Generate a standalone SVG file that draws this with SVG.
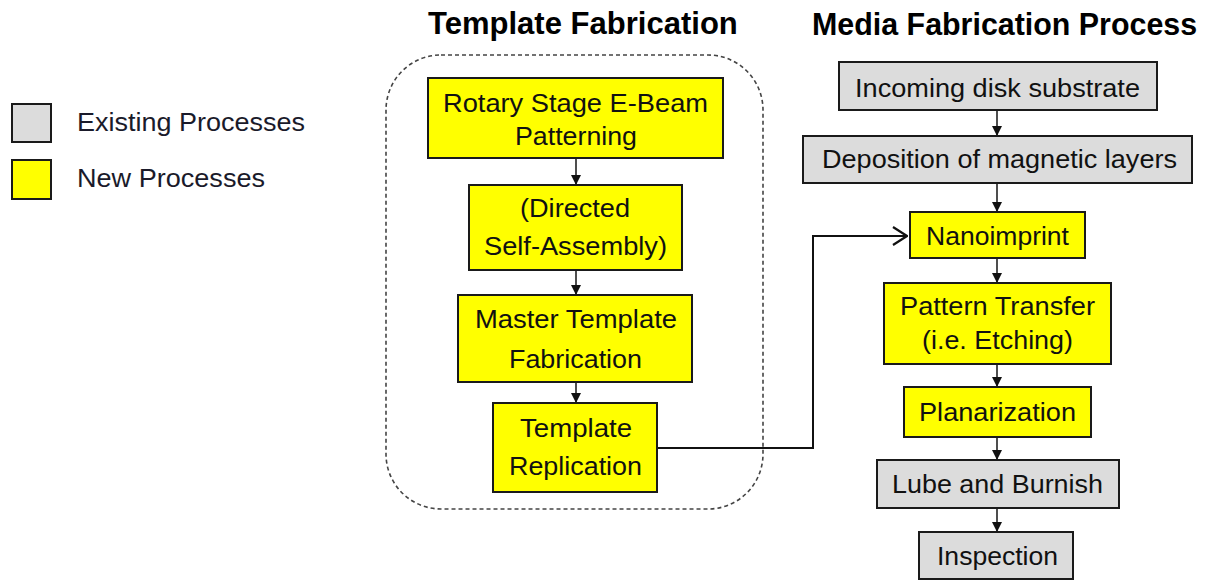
<svg xmlns="http://www.w3.org/2000/svg" width="1215" height="580" viewBox="0 0 1215 580">
  <style>
    .bg { fill: #ffffff; }
    .new { fill: #ffff00; stroke: #1a1a1a; stroke-width: 2; }
    .old { fill: #dcdcdc; stroke: #1a1a1a; stroke-width: 2; }
    .t { font-family: "Liberation Sans", Arial, sans-serif; font-size: 26.5px; fill: #111111; }
    .leg { font-family: "Liberation Sans", Arial, sans-serif; font-size: 25px; fill: #1a1a2a; }
    .title { font-family: "Liberation Sans", Arial, sans-serif; font-size: 32px; font-weight: bold; fill: #000000; }
    .flow { fill: none; stroke: #222222; stroke-width: 1.6; marker-end: url(#head); }
    .feed { fill: none; stroke: #111111; stroke-width: 2; marker-end: url(#open); }
    .frame { fill: none; stroke: #444444; stroke-width: 1.6; stroke-dasharray: 4 3; }
  </style>
  <defs>
    <marker id="head" viewBox="0 0 10 10" refX="10" refY="5" markerWidth="10" markerHeight="11" markerUnits="userSpaceOnUse" orient="auto">
      <path d="M0,0 L10,5 L0,10 z" fill="#111111"/>
    </marker>
    <marker id="open" viewBox="0 0 16 20" refX="15" refY="10" markerWidth="16" markerHeight="20" markerUnits="userSpaceOnUse" orient="auto">
      <path d="M1,1 L15,10 L1,19" fill="none" stroke="#111111" stroke-width="2.2"/>
    </marker>
  </defs>

  <rect class="bg" x="0" y="0" width="1215" height="580"/>

  <!-- Legend -->
  <g id="legend">
    <rect class="old" x="12" y="104" width="39" height="38"/>
    <text class="leg" x="77" y="131" textLength="228" lengthAdjust="spacingAndGlyphs">Existing Processes</text>
    <rect class="new" x="12" y="160" width="39" height="39"/>
    <text class="leg" x="77" y="187" textLength="188" lengthAdjust="spacingAndGlyphs">New Processes</text>
  </g>

  <!-- Column headings (bold, slightly narrowed) -->
  <text class="title" transform="translate(428 34) scale(0.97 1)">Template Fabrication</text>
  <text class="title" transform="translate(812 35) scale(0.95 1)">Media Fabrication Process</text>

  <!-- Template fabrication group outline -->
  <rect id="template-group" class="frame" x="386" y="55" width="377" height="454" rx="55" ry="55"/>

  <!-- Connectors -->
  <g id="connectors">
    <path class="flow" d="M576,158 L576,185"/>
    <path class="flow" d="M576,270 L576,295"/>
    <path class="flow" d="M576,382 L576,403"/>
    <path class="flow" d="M997,110 L997,136"/>
    <path class="flow" d="M997,183 L997,212"/>
    <path class="flow" d="M997,258 L997,283"/>
    <path class="flow" d="M997,364 L997,387"/>
    <path class="flow" d="M997,437 L997,460"/>
    <path class="flow" d="M997,508 L997,532"/>
    <path class="feed" d="M657,448 L813,448 L813,236 L907,236"/>
  </g>

  <!-- Template fabrication steps -->
  <g id="ebeam">
    <rect class="new" x="428" y="78" width="295" height="80"/>
    <text class="t" x="443" y="112" textLength="265" lengthAdjust="spacingAndGlyphs">Rotary Stage E-Beam</text>
    <text class="t" x="515" y="145" textLength="122" lengthAdjust="spacingAndGlyphs">Patterning</text>
  </g>
  <g id="dsa">
    <rect class="new" x="469" y="185" width="213" height="85"/>
    <text class="t" x="520" y="217" textLength="110" lengthAdjust="spacingAndGlyphs">(Directed</text>
    <text class="t" x="484" y="255" textLength="183" lengthAdjust="spacingAndGlyphs">Self-Assembly)</text>
  </g>
  <g id="master">
    <rect class="new" x="458" y="295" width="234" height="87"/>
    <text class="t" x="475" y="328" textLength="202" lengthAdjust="spacingAndGlyphs">Master Template</text>
    <text class="t" x="509" y="368" textLength="133" lengthAdjust="spacingAndGlyphs">Fabrication</text>
  </g>
  <g id="replication">
    <rect class="new" x="493" y="403" width="164" height="89"/>
    <text class="t" x="520" y="437" textLength="112" lengthAdjust="spacingAndGlyphs">Template</text>
    <text class="t" x="509" y="475" textLength="133" lengthAdjust="spacingAndGlyphs">Replication</text>
  </g>

  <!-- Media fabrication steps -->
  <g id="substrate">
    <rect class="old" x="839" y="62" width="318" height="48"/>
    <text class="t" x="855" y="97" textLength="285" lengthAdjust="spacingAndGlyphs">Incoming disk substrate</text>
  </g>
  <g id="deposition">
    <rect class="old" x="803" y="136" width="389" height="47"/>
    <text class="t" x="822" y="168" textLength="355" lengthAdjust="spacingAndGlyphs">Deposition of magnetic layers</text>
  </g>
  <g id="nanoimprint">
    <rect class="new" x="910" y="212" width="175" height="46"/>
    <text class="t" x="926" y="245" textLength="143" lengthAdjust="spacingAndGlyphs">Nanoimprint</text>
  </g>
  <g id="transfer">
    <rect class="new" x="884" y="283" width="227" height="81"/>
    <text class="t" x="900" y="315" textLength="195" lengthAdjust="spacingAndGlyphs">Pattern Transfer</text>
    <text class="t" x="922" y="349" textLength="151" lengthAdjust="spacingAndGlyphs">(i.e. Etching)</text>
  </g>
  <g id="planarization">
    <rect class="new" x="904" y="387" width="187" height="50"/>
    <text class="t" x="919" y="421" textLength="157" lengthAdjust="spacingAndGlyphs">Planarization</text>
  </g>
  <g id="lube">
    <rect class="old" x="877" y="460" width="242" height="48"/>
    <text class="t" x="892" y="493" textLength="211" lengthAdjust="spacingAndGlyphs">Lube and Burnish</text>
  </g>
  <g id="inspection">
    <rect class="old" x="919" y="532" width="154" height="47"/>
    <text class="t" x="937" y="565" textLength="121" lengthAdjust="spacingAndGlyphs">Inspection</text>
  </g>
</svg>
